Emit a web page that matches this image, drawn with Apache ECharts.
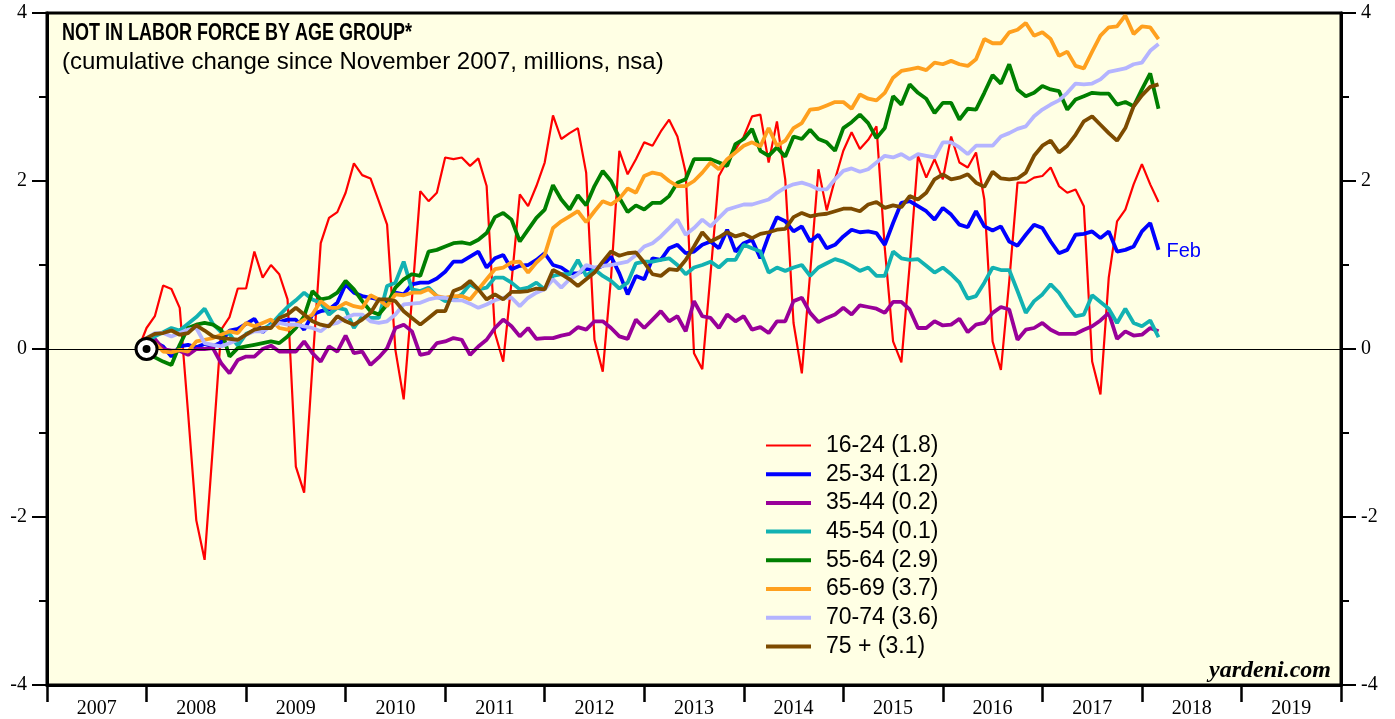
<!DOCTYPE html>
<html>
<head>
<meta charset="utf-8">
<script src="https://cdn.jsdelivr.net/npm/echarts@6/dist/echarts.min.js"></script>
<style>
html,body{margin:0;padding:0;background:#fff;}
#chart{width:1395px;height:719px;}
</style>
</head>
<body>
<div id="chart"></div>
<script>
// Tick labels / categories
const yearLabels = ['2007','2008','2009','2010','2011','2012','2013','2014','2015','2016','2017','2018','2019'];
const yTicks = [-4, -2, 0, 2, 4];
// Monthly data: Nov 2007 (index 0) .. Feb 2018 (index 123), cumulative change, millions
const startYear = 2007, startMonth = 11;
const lastLabel = 'Feb';

const s16_24 = [0,0.25,0.39,0.755,0.715,0.49,-0.75,-2.04,-2.51,-1.16,0.23,0.38,0.72,0.72,1.16,0.85,1.0,0.89,0.59,-1.40,
-1.71,-0.2,1.26,1.56,1.63,1.86,2.21,2.07,2.03,1.76,1.48,-0.01,-0.6,0.6,1.88,1.76,1.86,2.28,2.26,2.28,
2.18,2.27,1.94,0.19,-0.15,0.8,1.84,1.70,1.94,2.22,2.78,2.5,2.57,2.63,2.10,0.11,-0.27,0.85,2.36,2.08,
2.26,2.46,2.42,2.59,2.73,2.53,2.10,-0.05,-0.24,0.9,2.06,2.24,2.38,2.53,2.77,2.79,2.22,2.71,2.02,0.31,
-0.29,0.9,2.14,1.65,2.02,2.36,2.58,2.38,2.49,2.65,1.2,0.09,-0.16,1.0,2.30,2.04,2.26,2.02,2.53,2.22,
2.16,2.34,1.78,0.09,-0.25,0.8,1.98,1.98,2.04,2.06,2.16,1.94,1.86,1.90,1.70,-0.15,-0.54,0.85,1.52,1.66,
1.96,2.20,1.96,1.75];
const s25_34 = [0,0.13,0.08,0.03,-0.09,0.03,0.05,0.02,0.06,0.03,0.08,0.22,0.24,0.3,0.36,0.2,0.3,0.32,0.35,0.35,
0.23,0.41,0.45,0.47,0.55,0.77,0.67,0.63,0.61,0.59,0.55,0.67,0.65,0.77,0.79,0.79,0.84,0.92,1.04,1.04,
1.10,1.16,0.97,1.08,1.12,0.95,0.99,1.0,1.06,1.14,1.0,0.97,0.9,0.9,0.95,0.95,0.99,1.1,0.9,0.65,
0.87,0.83,1.08,1.06,1.2,1.24,1.14,1.16,1.24,1.28,1.2,1.42,1.16,1.26,1.30,1.08,1.35,1.57,1.52,1.4,
1.46,1.28,1.36,1.2,1.24,1.34,1.42,1.39,1.40,1.38,1.24,1.5,1.74,1.76,1.70,1.64,1.54,1.68,1.60,1.48,
1.45,1.64,1.46,1.41,1.46,1.28,1.23,1.36,1.48,1.44,1.28,1.14,1.18,1.36,1.37,1.40,1.32,1.40,1.16,1.18,
1.22,1.40,1.50,1.18];
const s35_44 = [0,0.05,0.12,0.0,-0.02,-0.02,-0.07,0.0,0.0,0.01,-0.17,-0.29,-0.13,-0.09,-0.09,0.0,0.04,-0.03,-0.03,-0.03,
0.09,-0.05,-0.15,0.03,-0.03,0.16,-0.05,-0.03,-0.19,-0.1,0.01,0.25,0.29,0.21,-0.07,-0.05,0.07,0.09,0.13,0.11,
-0.07,0.03,0.11,0.25,0.35,0.27,0.15,0.25,0.12,0.13,0.13,0.16,0.18,0.26,0.23,0.33,0.33,0.25,0.15,0.12,
0.35,0.25,0.35,0.45,0.33,0.39,0.21,0.57,0.39,0.37,0.25,0.41,0.33,0.39,0.23,0.26,0.19,0.33,0.33,0.57,
0.61,0.43,0.32,0.37,0.41,0.49,0.41,0.52,0.5,0.48,0.43,0.56,0.56,0.47,0.25,0.25,0.33,0.28,0.29,0.36,
0.2,0.29,0.31,0.43,0.5,0.47,0.11,0.23,0.25,0.31,0.23,0.18,0.18,0.18,0.23,0.27,0.34,0.43,0.12,0.21,
0.16,0.17,0.25,0.21];
const s45_54 = [0,0.08,0.15,0.2,0.25,0.22,0.3,0.38,0.48,0.3,0.2,0.18,0.04,0.18,0.22,0.24,0.29,0.4,0.5,0.58,
0.67,0.59,0.55,0.41,0.49,0.47,0.25,0.39,0.37,0.37,0.75,0.79,1.04,0.71,0.69,0.73,0.63,0.57,0.59,0.65,
0.77,0.71,0.73,0.85,0.85,0.79,0.71,0.73,0.79,0.71,0.87,0.89,0.89,1.06,0.87,0.95,0.87,0.81,0.72,0.79,
1.02,1.04,1.04,1.06,1.08,1.0,0.89,0.97,1.0,1.04,0.97,1.06,1.06,1.24,1.2,1.16,0.91,0.97,0.93,0.97,
1.0,0.87,0.97,1.02,1.07,1.04,0.99,0.93,0.97,0.87,0.87,1.16,1.08,1.06,1.07,0.99,0.91,0.97,0.89,0.79,
0.6,0.63,0.79,0.97,0.94,0.94,0.69,0.43,0.57,0.65,0.77,0.67,0.52,0.39,0.41,0.64,0.56,0.48,0.31,0.48,
0.31,0.27,0.34,0.14];
const s55_64 = [0,-0.05,-0.1,-0.15,-0.19,0.05,0.25,0.29,0.31,0.29,0.23,-0.09,0.01,0.03,0.05,0.07,0.09,0.07,0.15,0.25,
0.39,0.69,0.59,0.61,0.67,0.81,0.71,0.57,0.45,0.41,0.53,0.73,0.83,0.89,0.87,1.16,1.18,1.22,1.26,1.27,
1.25,1.3,1.38,1.57,1.62,1.54,1.28,1.42,1.56,1.66,1.95,1.78,1.66,1.83,1.71,1.94,2.12,2.0,1.80,1.63,
1.71,1.66,1.74,1.74,1.82,1.98,2.02,2.26,2.26,2.26,2.22,2.18,2.44,2.5,2.62,2.36,2.30,2.40,2.29,2.53,
2.50,2.61,2.50,2.46,2.36,2.63,2.70,2.79,2.69,2.51,2.63,3.01,2.91,3.15,3.05,2.98,2.81,2.93,2.93,2.73,
2.86,2.85,3.05,3.26,3.16,3.39,3.09,3.01,3.05,3.13,3.09,3.07,2.85,2.97,3.01,3.05,3.04,3.04,2.91,2.94,
2.89,3.09,3.28,2.86];
const s65_69 = [0,0.05,0.07,-0.03,-0.04,-0.01,-0.03,0.09,0.11,0.13,0.17,0.21,0.19,0.31,0.27,0.31,0.35,0.25,0.23,0.29,
0.35,0.41,0.57,0.49,0.49,0.55,0.51,0.49,0.64,0.59,0.51,0.65,0.64,0.67,0.67,0.71,0.63,0.61,0.63,0.63,
0.59,0.71,0.83,0.95,0.97,1.03,1.04,0.91,1.03,1.12,1.44,1.52,1.58,1.64,1.51,1.64,1.76,1.72,1.79,1.91,
1.86,2.06,2.1,2.08,2.0,1.94,1.94,2.0,2.1,2.22,2.14,2.26,2.34,2.42,2.46,2.41,2.63,2.42,2.48,2.63,
2.69,2.85,2.86,2.90,2.94,2.94,2.86,3.03,2.98,2.96,3.05,3.23,3.31,3.33,3.35,3.32,3.41,3.39,3.43,3.39,
3.37,3.45,3.69,3.64,3.64,3.77,3.80,3.88,3.73,3.77,3.69,3.49,3.54,3.37,3.34,3.54,3.73,3.83,3.84,3.97,
3.75,3.84,3.83,3.69];
const s70_74 = [0,0.13,0.19,0.19,0.15,0.19,0.23,0.25,0.07,0.05,0.03,0.07,0.11,0.17,0.21,0.21,0.27,0.31,0.29,0.29,
0.27,0.25,0.21,0.29,0.31,0.37,0.41,0.41,0.33,0.31,0.33,0.41,0.53,0.54,0.55,0.59,0.61,0.61,0.58,0.58,
0.54,0.49,0.53,0.58,0.61,0.61,0.51,0.61,0.67,0.71,0.83,0.73,0.83,0.89,1.0,0.97,0.99,1.0,1.02,1.04,
1.12,1.22,1.26,1.34,1.44,1.54,1.36,1.44,1.54,1.46,1.56,1.66,1.69,1.72,1.72,1.75,1.78,1.86,1.92,1.96,
1.98,1.95,1.90,1.90,2.02,2.12,2.15,2.11,2.14,2.22,2.30,2.28,2.32,2.26,2.32,2.30,2.28,2.46,2.46,2.40,
2.32,2.42,2.42,2.42,2.53,2.57,2.62,2.65,2.77,2.85,2.91,2.96,3.05,3.16,3.15,3.16,3.21,3.30,3.32,3.34,
3.39,3.41,3.55,3.63];
const s75p = [0,0.13,0.18,0.19,0.22,0.17,0.19,0.28,0.22,0.15,0.13,0.12,0.11,0.17,0.23,0.25,0.25,0.37,0.41,0.49,
0.41,0.33,0.29,0.27,0.39,0.33,0.29,0.35,0.43,0.59,0.59,0.57,0.45,0.37,0.29,0.37,0.45,0.45,0.69,0.73,
0.81,0.71,0.59,0.65,0.59,0.68,0.68,0.69,0.72,0.71,0.94,0.89,0.83,0.75,0.83,0.91,1.04,1.16,1.11,1.14,
1.15,1.03,0.89,0.87,0.95,0.94,1.06,1.22,1.39,1.28,1.33,1.39,1.34,1.37,1.32,1.37,1.39,1.42,1.43,1.57,
1.62,1.58,1.60,1.61,1.64,1.67,1.67,1.64,1.72,1.75,1.68,1.71,1.69,1.82,1.78,1.86,2.02,2.08,2.02,2.04,
2.08,1.98,1.93,2.11,2.03,2.02,2.03,2.10,2.30,2.42,2.48,2.34,2.42,2.55,2.71,2.77,2.67,2.57,2.48,2.63,
2.89,3.02,3.12,3.15];

const seriesNames = ['16-24 (1.8)','25-34 (1.2)','35-44 (0.2)','45-54 (0.1)','55-64 (2.9)','65-69 (3.7)','70-74 (3.6)','75 + (3.1)'];
const seriesValues = [s16_24, s25_34, s35_44, s45_54, s55_64, s65_69, s70_74, s75p];
const colors = ['#FF0000','#0000FF','#990099','#12B2B2','#007F00','#FFA01E','#B4B4FF','#7D4B00'];
const widths = [2.2, 3.8, 3.8, 3.8, 3.8, 3.8, 3.8, 3.8];
// Business-cycle peak marker: Dec 2007 (index 1), at zero
const peakIndex = 1;

// month index -> decimal-year position (plotted at month end)
function monthPos(i){ return startYear + (startMonth + i) / 12; }

const chart = echarts.init(document.getElementById('chart'));

const series = seriesValues.map((vals, k) => {
  const s = {
    name: seriesNames[k],
    type: 'line',
    xAxisIndex: 1,
    yAxisIndex: 0,
    data: vals.map((v, i) => [monthPos(i), v]),
    showSymbol: false,
    symbol: 'none',
    lineStyle: { color: colors[k], width: widths[k] },
    itemStyle: { color: colors[k] },
    animation: false,
    z: 3
  };
  if (k === 0) {
    s.markLine = {
      silent: true, symbol: ['none','none'], animation: false,
      label: { show: false },
      lineStyle: { color: '#000', width: 1, type: 'solid' },
      data: [{ yAxis: 0 }]
    };
  }
  if (k === 1) {
    s.endLabel = { show: true, formatter: lastLabel, color: '#0000FF', fontSize: 20,
      fontFamily: 'Liberation Sans', distance: 8, offset: [0, 2] };
  }
  return s;
});

series.push({
  type: 'scatter', xAxisIndex: 1, yAxisIndex: 0, silent: true, animation: false, z: 10,
  data: [[monthPos(peakIndex), 0]], symbolSize: 21,
  itemStyle: { color: '#fff', borderColor: '#000', borderWidth: 3, opacity: 1 }
});
series.push({
  type: 'scatter', xAxisIndex: 1, yAxisIndex: 0, silent: true, animation: false, z: 11,
  data: [[monthPos(peakIndex), 0]], symbolSize: 8,
  itemStyle: { color: '#000', opacity: 1 }
});

const yAxisCommon = {
  type: 'value', min: yTicks[0], max: yTicks[yTicks.length-1], interval: 2,
  axisLine: { show: true, lineStyle: { color: '#000', width: 3 } },
  axisTick: { show: true, length: 15, lineStyle: { color: '#000', width: 2 } },
  minorTick: { show: true, splitNumber: 2, length: 8, lineStyle: { color: '#000', width: 2 } },
  splitLine: { show: false },
  axisLabel: { color: '#000', fontFamily: 'Liberation Serif', fontSize: 20, margin: 20 }
};

const thickIcon = 'path://M0,0 L45,0 L45,4 L0,4 Z';
const thinIcon = 'path://M0,0 L45,0 L45,2.2 L0,2.2 Z';

chart.setOption({
  backgroundColor: '#ffffff',
  animation: false,
  grid: { left: 47, right: 54, top: 13, bottom: 34, show: true, backgroundColor: '#FFFFE4',
    borderColor: '#000', borderWidth: 3 },
  legend: {
    orient: 'vertical', left: 766, top: 434, padding: 0, itemWidth: 45, itemHeight: 4, itemGap: 5.7,
    symbolKeepAspect: true,
    data: seriesNames.map((n, k) => ({ name: n, icon: widths[k] < 3 ? thinIcon : thickIcon,
      itemStyle: { color: colors[k] } })),
    textStyle: { fontFamily: 'Liberation Sans', fontSize: 23, lineHeight: 23, color: '#000', padding: [0,0,0,10] }
  },
  xAxis: [
    { type: 'category', data: yearLabels, boundaryGap: true, position: 'bottom',
      axisLine: { show: true, onZero: false, lineStyle: { color: '#000', width: 3 } },
      axisTick: { show: true, length: 17, lineStyle: { color: '#000', width: 2.5 } },
      axisLabel: { color: '#000', fontFamily: 'Liberation Serif', fontSize: 20, margin: 14 },
      splitLine: { show: false } },
    { type: 'value', min: startYear, max: startYear + yearLabels.length, show: false }
  ],
  yAxis: [
    Object.assign({}, yAxisCommon, { position: 'left' }),
    Object.assign({}, yAxisCommon, { position: 'right' })
  ],
  graphic: [
    { type: 'text', x: 62, y: 33, scaleX: 0.75, scaleY: 1,
      style: { text: 'NOT IN LABOR FORCE BY AGE GROUP*', fontFamily: 'Liberation Sans', fontWeight: 'bold',
        fontSize: 24, fill: '#000', textVerticalAlign: 'middle', verticalAlign: 'middle' } },
    { type: 'text', x: 62, y: 62,
      style: { text: '(cumulative change since November 2007, millions, nsa)', fontFamily: 'Liberation Sans',
        fontSize: 24, fill: '#000', textVerticalAlign: 'middle', verticalAlign: 'middle' } },
    { type: 'text', x: 1331, y: 671,
      style: { text: 'yardeni.com', fontFamily: 'Liberation Serif', fontStyle: 'italic', fontWeight: 'bold',
        fontSize: 24, fill: '#000', align: 'right', textAlign: 'right', verticalAlign: 'middle', textVerticalAlign: 'middle' } }
  ],
  series: series
});
</script>
</body>
</html>
